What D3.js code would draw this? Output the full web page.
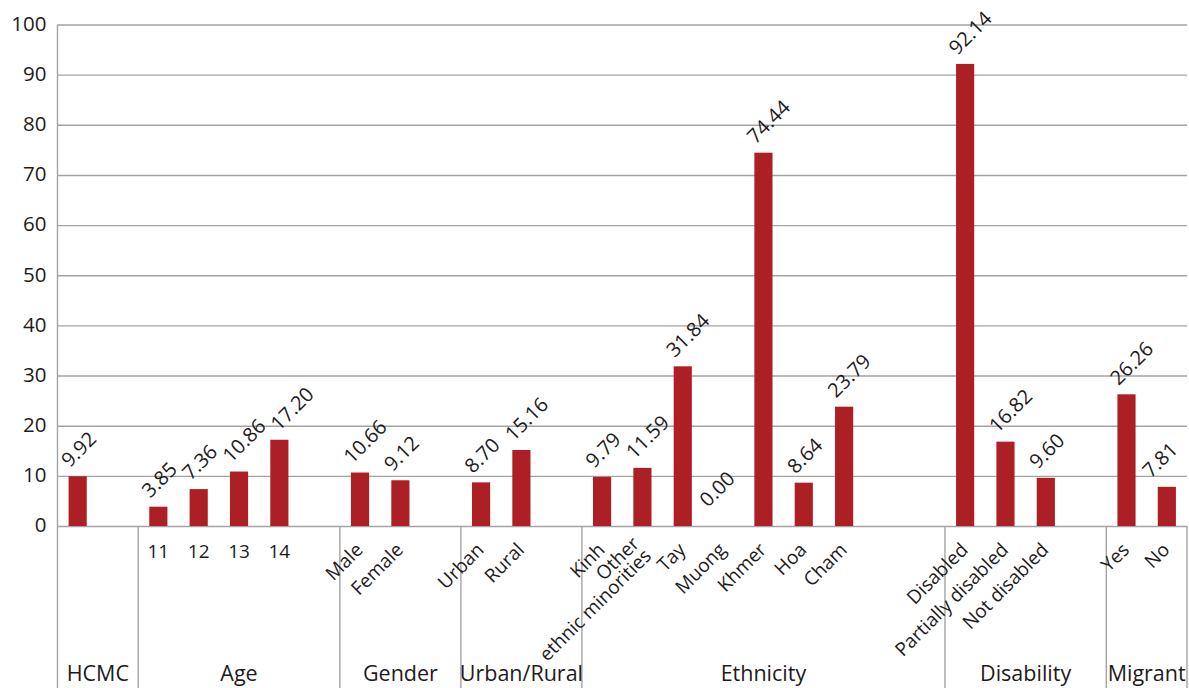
<!DOCTYPE html>
<html>
<head>
<meta charset="utf-8">
<script src="https://cdn.jsdelivr.net/npm/d3@7"></script>
<style>
  html, body { margin: 0; padding: 0; background: #fff; }
  svg { display: block; font-family: "Open Sans", "Noto Sans", sans-serif; }
  text { fill: #1e1b1c; }
</style>
</head>
<body>
<svg id="chart" width="1189" height="688"></svg>
<script>
// Percentages by group; empty strings / nulls are the blank spacer categories.
const groupNames = ["HCMC", "Age", "Gender", "Urban/Rural", "Ethnicity", "Disability", "Migrant"];

const hcmcLabels = ["", ""];
const hcmcValues = [9.92, null];

const ageLabels = ["11", "12", "13", "14", ""];
const ageValues = [3.85, 7.36, 10.86, 17.20, null];

const genderLabels = ["Male", "Female", ""];
const genderValues = [10.66, 9.12, null];

const areaLabels = ["Urban", "Rural", ""];
const areaValues = [8.70, 15.16, null];

const ethnicityLabels = ["Kinh", "Other|ethnic minorities", "Tay", "Muong", "Khmer", "Hoa", "Cham", "", ""];
const ethnicityValues = [9.79, 11.59, 31.84, 0.00, 74.44, 8.64, 23.79, null, null];

const disabilityLabels = ["Disabled", "Partially disabled", "Not disabled", ""];
const disabilityValues = [92.14, 16.82, 9.60, null];

const migrantLabels = ["Yes", "No"];
const migrantValues = [26.26, 7.81];

const yTicks = [0, 10, 20, 30, 40, 50, 60, 70, 80, 90, 100];

// ---- layout ----
const W = 1189, H = 688;
const plotLeft = 57.5, plotRight = 1187, plotTop = 24.5, baseY = 526;
const barColor = "#ac1f25";
const gridColor = "#a3a3a3";

const groupLabels = [hcmcLabels, ageLabels, genderLabels, areaLabels, ethnicityLabels, disabilityLabels, migrantLabels];
const groupValues = [hcmcValues, ageValues, genderValues, areaValues, ethnicityValues, disabilityValues, migrantValues];

const slots = groupNames.flatMap((g, gi) =>
  groupLabels[gi].map((label, i) => ({ group: g, gi, label, value: groupValues[gi][i], id: gi + "-" + i }))
);

const svg = d3.select("#chart");

const x = d3.scaleBand()
  .domain(slots.map(d => d.id))
  .range([plotLeft, plotRight])
  .paddingInner(0.55)
  .paddingOuter(0.275);
const step = x.step();
const cx = d => x(d.id) + x.bandwidth() / 2;
const slotLeft = d => x(d.id) - step * 0.275;

const y = d3.scaleLinear().domain([0, 100]).range([baseY, plotTop]);

// gridlines + y tick labels
const yAxis = d3.axisLeft(y)
  .tickValues(yTicks)
  .tickSize(-(plotRight - plotLeft))
  .tickPadding(11)
  .tickFormat(d3.format("d"));

const gy = svg.append("g")
  .attr("transform", `translate(${plotLeft},0)`)
  .call(yAxis);
gy.select(".domain").remove();
gy.selectAll(".tick line").attr("stroke", gridColor).attr("stroke-width", 1.4);
gy.selectAll(".tick text")
  .attr("font-size", 20.5)
  .attr("font-family", "Open Sans, Noto Sans, sans-serif")
  .attr("fill", "#1e1b1c")
  .attr("dy", "0.28em");

// vertical frame lines: left axis and group separators below the baseline
svg.append("line")
  .attr("x1", plotLeft).attr("x2", plotLeft).attr("y1", plotTop).attr("y2", H)
  .attr("stroke", gridColor).attr("stroke-width", 1.4);

const groupSpans = groupNames.map((g, gi) => {
  const s = slots.filter(d => d.gi === gi);
  const x0 = slotLeft(s[0]);
  const x1 = slotLeft(s[s.length - 1]) + step;
  return { name: g, x0, x1 };
});

svg.append("g").selectAll("line")
  .data(groupSpans.map(g => g.x1))
  .join("line")
  .attr("x1", d => d).attr("x2", d => d)
  .attr("y1", baseY).attr("y2", H)
  .attr("stroke", gridColor).attr("stroke-width", 1.4);

// bars
const barData = slots.filter(d => d.value !== null);
svg.append("g").selectAll("rect")
  .data(barData)
  .join("rect")
  .attr("x", d => x(d.id))
  .attr("width", x.bandwidth())
  .attr("y", d => y(d.value))
  .attr("height", d => baseY - y(d.value))
  .attr("fill", barColor);

// value labels, rotated; a label that would run into its left neighbour is nudged right,
// and one that would leave the plot on the right is pulled back in
const vl = svg.append("g").selectAll("text")
  .data(barData)
  .join("text")
  .attr("font-size", 20)
  .attr("text-anchor", "start")
  .text(d => d.value.toFixed(2));

let prev = null;
vl.each(function (d) {
  const len = this.getComputedTextLength() * Math.SQRT1_2;
  let sx = cx(d) - 8;
  let sy = y(d.value) - 8;
  if (d.value === 0) { sx -= 7; sy -= 10; }
  if (prev && sy <= prev.sy && sy >= prev.ey - 10 && sx < prev.ex + 12) sx = prev.ex + 12;
  if (sx + len > plotRight - 8) sx = plotRight - 8 - len;
  prev = { sy, ex: sx + len, ey: sy - len };
  d3.select(this).attr("transform", `translate(${sx},${sy}) rotate(-45)`);
});

// category labels
const catData = slots.filter(d => d.label !== "");
const cl = svg.append("g").selectAll("text")
  .data(catData)
  .join("text")
  .attr("font-size", 19);

cl.each(function (d) {
  const t = d3.select(this);
  if (!isNaN(+d.label)) {
    t.attr("text-anchor", "middle")
      .attr("x", cx(d)).attr("y", 558)
      .text(d.label);
  } else {
    const lines = d.label.split("|");
    t.attr("text-anchor", "end")
      .attr("transform", `translate(${cx(d) + 4},551) rotate(-45)`);
    lines.forEach((line, i) => {
      t.append("tspan")
        .attr("x", 0)
        .attr("dy", i === 0 ? `${-(lines.length - 1) * 0.45}em` : "0.9em")
        .text(line);
    });
  }
});

// group labels
svg.append("g").selectAll("text")
  .data(groupSpans)
  .join("text")
  .attr("font-size", 21.5)
  .attr("text-anchor", "middle")
  .attr("x", d => (d.x0 + d.x1) / 2)
  .attr("y", 681)
  .text(d => d.name);
</script>
</body>
</html>
